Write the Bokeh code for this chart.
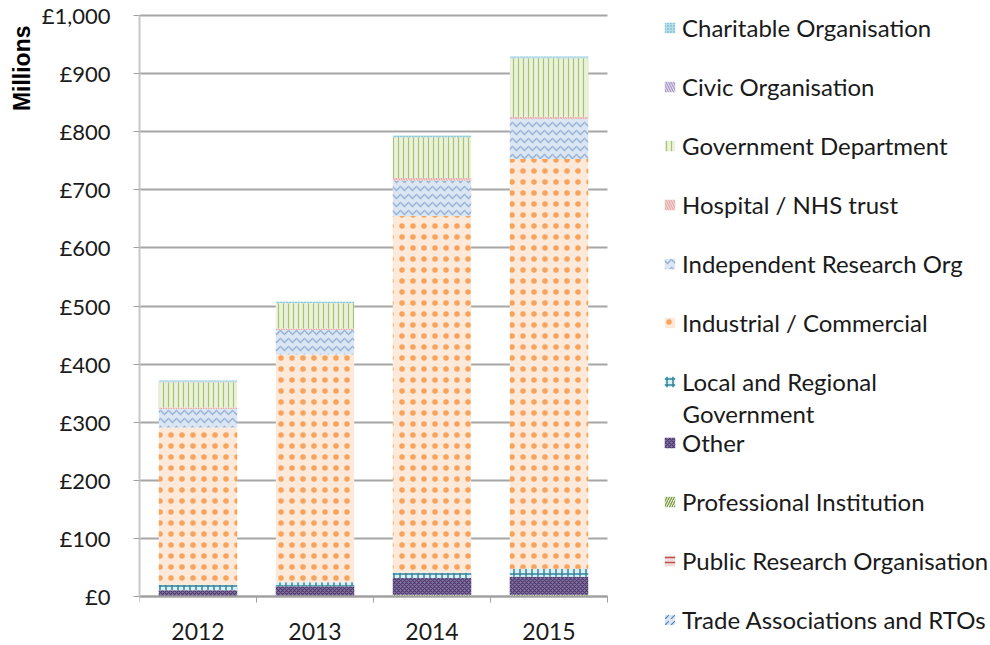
from bokeh.plotting import figure
from bokeh.models import FixedTicker, Legend, LegendItem, Title, Range1d, Label
from bokeh.embed import file_html
from bokeh.resources import INLINE
import numpy as np

years = ["2012", "2013", "2014", "2015"]

# series in stacking order (bottom -> top), values in £ millions
trade = [0.5, 0.5, 0.5, 0.5]
public_research = [0.3, 0.3, 0.3, 0.3]
professional = [0.5, 0.8, 2, 2]
other = [9.5, 16, 29, 31]
local_gov = [9, 7, 9, 14]
industrial = [271, 392, 614, 705]
independent = [32, 42, 61, 69]
hospital = [2.5, 2.5, 4.5, 4]
government = [43.5, 43.5, 70, 100.5]
civic = [0.3, 0.3, 0.3, 0.3]
charitable = [2.5, 2.5, 3, 3]

series_keys = ["trade", "public", "prof", "other", "local", "industrial",
               "independent", "hospital", "government", "civic", "charitable"]
series_labels = ["Trade Associations and RTOs", "Public Research Organisation",
                 "Professional Institution", "Other", "Local and Regional",
                 "Industrial / Commercial", "Independent Research Org",
                 "Hospital / NHS trust", "Government Department",
                 "Civic Organisation", "Charitable Organisation"]
local_label_line2 = "Government"
series_values = [trade, public_research, professional, other, local_gov, industrial,
                 independent, hospital, government, civic, charitable]

y_ticks = [0, 100, 200, 300, 400, 500, 600, 700, 800, 900, 1000]
y_tick_labels = ["£0", "£100", "£200", "£300", "£400", "£500", "£600",
                 "£700", "£800", "£900", "£1,000"]

fill_colors = ["#dce6f2", "#f2dcdb", "#ebf1de", "#8a76a8", "#daeef3", "#fde9d9",
               "#dce6f2", "#f2dcdb", "#ebf1de", "#e5e0ec", "#b7dde8"]
hatch_colors = ["#4f81bd", "#c0504d", "#77933c", "#4b3a6b", "#31859c", "#f79646",
                "#95b3d7", "#e6a5a3", "#a6c46a", "#a594c8", "#4bacc6"]
hatch_patterns = ["right_diagonal_dash", "horizontal_line", "right_diagonal_line",
                  "diagonal_cross", "cross", "dot", "horizontal_wave",
                  "left_diagonal_line", "vertical_line", "left_diagonal_line", "dot"]
hatch_scales = [6, 5, 5, 4, 6, 11, 8, 5, 5, 5, 3]
hatch_weights = [1.2, 1.5, 1.2, 1.2, 1.5, 1, 1.5, 1.2, 1.2, 1.2, 1]
hatch_alphas = [1, 1, 1, 1, 1, 0.85, 1, 1, 1, 1, 1]

x = np.arange(len(years)) + 0.5
data = {"x": x}
for k, v in zip(series_keys, series_values):
    data[k] = v

style = dict(fill_color=fill_colors, line_color=None, hatch_color=hatch_colors,
             hatch_pattern=hatch_patterns, hatch_scale=hatch_scales,
             hatch_weight=hatch_weights, hatch_alpha=hatch_alphas)

# Layout geometry (pixels): bar area 139..607 x 15..596, legend to the right.
W, H = 990, 645
left = 139
bar_top, bar_right, bar_bottom = 15, 607, 596
frame_w, frame_h = W - left, H
y_max = y_ticks[-1]
px_per_unit = (bar_bottom - bar_top) / y_max
y_min = -(H - bar_bottom) / px_per_unit
y_end = y_max + bar_top / px_per_unit
x_max = len(years) * frame_w / (bar_right - left)

p = figure(width=W, height=H, x_range=Range1d(0, x_max), y_range=Range1d(y_min, y_end),
           output_backend="svg", toolbar_location=None,
           min_border_left=left, min_border_right=0, min_border_top=0,
           min_border_bottom=0, background_fill_color="white",
           border_fill_color="white")
p.outline_line_color = None

renderers = p.vbar_stack(series_keys, x="x", width=0.67, source=data, **style)

# y axis
p.yaxis.ticker = FixedTicker(ticks=y_ticks)
p.yaxis.bounds = (0, y_max)
p.yaxis.major_label_overrides = dict(zip(y_ticks, y_tick_labels))
p.yaxis.major_label_text_font = "Lato"
p.yaxis.major_label_text_font_size = "22px"
p.yaxis.major_label_text_color = "#1a1a1a"
p.yaxis.axis_line_color = "#c8c8c8"
p.yaxis.axis_line_width = 2
p.yaxis.major_tick_line_color = "#a0a0a0"
p.yaxis.major_tick_out = 6
p.yaxis.major_tick_in = 0
p.yaxis.minor_tick_line_color = None
p.yaxis.major_label_standoff = 23

# x axis at y=0: labels at centers, ticks at category boundaries
p.xaxis.fixed_location = 0
p.xaxis.bounds = (0, len(years))
p.xaxis.ticker = FixedTicker(ticks=list(x), minor_ticks=list(range(len(years) + 1)))
p.xaxis.major_label_overrides = {float(xx): yr for xx, yr in zip(x, years)}
p.xaxis.major_label_text_font = "Lato"
p.xaxis.major_label_text_font_size = "23px"
p.xaxis.major_label_text_color = "#1a1a1a"
p.xaxis.axis_line_color = "#a0a0a0"
p.xaxis.axis_line_width = 2
p.xaxis.major_tick_out = 0
p.xaxis.major_tick_in = 0
p.xaxis.minor_tick_out = 6
p.xaxis.minor_tick_in = 0
p.xaxis.minor_tick_line_color = "#a0a0a0"
p.xaxis.minor_tick_line_width = 1
p.xaxis.major_label_standoff = 20

p.xgrid.grid_line_color = None
p.ygrid.grid_line_color = "#a6a6a6"
p.ygrid.grid_line_width = 2
p.ygrid.cross_bounds = (0, len(years))

p.add_layout(Title(text="Millions", align="right", text_font="Liberation Sans",
                   text_font_style="bold", text_font_size="23px",
                   text_color="#000000", standoff=8, offset=25), "left")

# legend (two blocks so the wrapped "Local and Regional / Government" entry
# does not push the following entries down)
pairs = list(reversed(list(zip(series_labels, renderers))))
leg_style = dict(padding=0, margin=0, border_line_color=None,
                 background_fill_alpha=0, glyph_width=13, glyph_height=13,
                 label_height=29, spacing=30, label_standoff=6,
                 label_text_font="Lato", label_text_font_size="24px",
                 label_text_color="#1a1a1a")
legend_a = Legend(items=[LegendItem(label=l, renderers=[r]) for l, r in pairs[:7]],
                  location=(663 - left, H - 395.5), **leg_style)
legend_b = Legend(items=[LegendItem(label=l, renderers=[r]) for l, r in pairs[7:]],
                  location=(663 - left, H - 633.5), **leg_style)
p.add_layout(legend_a)
p.add_layout(legend_b)
p.add_layout(Label(x=682 - left, y=H - 413, x_units="screen", y_units="screen",
                   text=local_label_line2, text_font="Lato", text_font_size="24px",
                   text_color="#1a1a1a", text_baseline="middle"))

open("out.html", "w").write(file_html(p, INLINE))
